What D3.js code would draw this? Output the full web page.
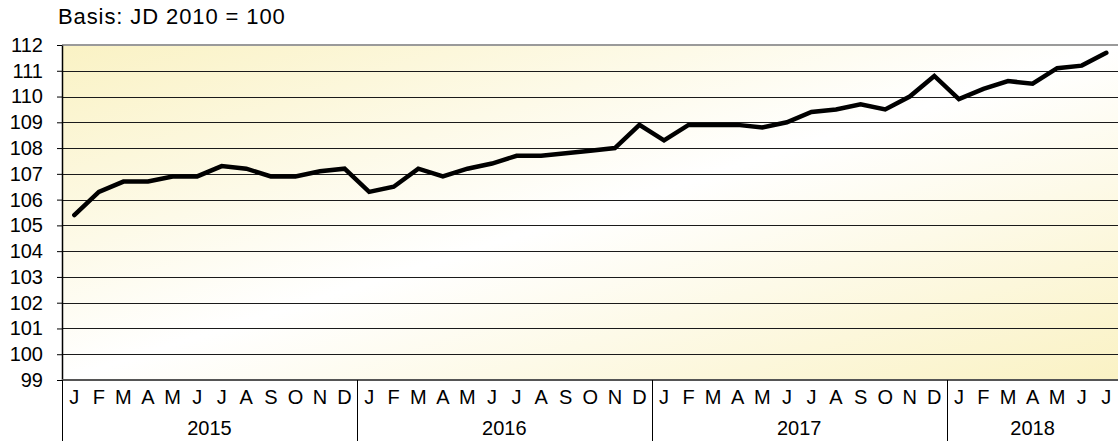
<!DOCTYPE html>
<html>
<head>
<meta charset="utf-8">
<script src="https://cdn.jsdelivr.net/npm/d3@7"></script>
<style>
  body { margin: 0; background: #fff; }
  svg { display: block; font-family: "Liberation Sans", Arial, sans-serif; }
</style>
</head>
<body>
<div id="chart"></div>
<script>
// data (index, basis JD 2010 = 100)
const years = ["2015", "2016", "2017", "2018"];
const monthLetters = ["J", "F", "M", "A", "M", "J", "J", "A", "S", "O", "N", "D"];
const values2015 = [105.4, 106.3, 106.7, 106.7, 106.9, 106.9, 107.3, 107.2, 106.9, 106.9, 107.1, 107.2];
const values2016 = [106.3, 106.5, 107.2, 106.9, 107.2, 107.4, 107.7, 107.7, 107.8, 107.9, 108.0, 108.9];
const values2017 = [108.3, 108.9, 108.9, 108.9, 108.8, 109.0, 109.4, 109.5, 109.7, 109.5, 110.0, 110.8];
const values2018 = [109.9, 110.3, 110.6, 110.5, 111.1, 111.2, 111.7];
const yTicks = [99, 100, 101, 102, 103, 104, 105, 106, 107, 108, 109, 110, 111, 112];
const subtitle = "Basis: JD 2010 = 100";

// set sizes
const W = 1118, H = 441;
const margin = { top: 45, left: 62, right: -0.6, bottom: 61 };
const plotBottom = H - margin.bottom;

// flatten series into month points
const series = [values2015, values2016, values2017, values2018];
let points = [];
series.forEach((vals, yi) => {
  vals.forEach((v, mi) => {
    points.push({ key: years[yi] + "-" + mi, year: years[yi], month: mi, value: v });
  });
});

const svg = d3.select("#chart")
  .append("svg")
  .attr("width", W)
  .attr("height", H);

const x = d3.scaleBand()
  .domain(points.map(d => d.key))
  .range([margin.left, W - margin.right])
  .padding(0);

const y = d3.scaleLinear()
  .domain([99, 112])
  .range([plotBottom, margin.top]);

// background gradient
const defs = svg.append("defs");
const grad = defs.append("linearGradient")
  .attr("id", "bg")
  .attr("x1", 0).attr("y1", 0).attr("x2", 1).attr("y2", 1);
grad.append("stop").attr("offset", "0%").attr("stop-color", "#faf2c4");
grad.append("stop").attr("offset", "50%").attr("stop-color", "#ffffff");
grad.append("stop").attr("offset", "100%").attr("stop-color", "#faf2c4");

svg.append("rect")
  .attr("x", margin.left)
  .attr("y", margin.top)
  .attr("width", W - margin.right - margin.left)
  .attr("height", plotBottom - margin.top)
  .attr("fill", "url(#bg)");

// horizontal gridlines
svg.append("g")
  .selectAll("line")
  .data(yTicks.slice(1, -1))
  .join("line")
  .attr("x1", margin.left)
  .attr("x2", W)
  .attr("y1", d => Math.round(y(d)) + 0.5)
  .attr("y2", d => Math.round(y(d)) + 0.5)
  .attr("stroke", "#1a1a1a")
  .attr("stroke-width", 1);

// top border
svg.append("line")
  .attr("x1", margin.left).attr("x2", W)
  .attr("y1", y(112)).attr("y2", y(112))
  .attr("stroke", "#9a9a9a")
  .attr("stroke-width", 2);

// y axis
const yAxis = svg.append("g")
  .attr("transform", `translate(${margin.left},0)`)
  .call(d3.axisLeft(y).tickValues(yTicks).tickSize(5).tickSizeOuter(0).tickPadding(14).tickFormat(d3.format("d")));
yAxis.select(".domain").attr("stroke", "#000").attr("stroke-width", 1.5);
yAxis.selectAll(".tick line").attr("stroke", "#000");
yAxis.selectAll("text")
  .attr("font-size", 20)
  .attr("font-family", "Liberation Sans, Arial, sans-serif")
  .attr("fill", "#000");

// bottom axis line
svg.append("line")
  .attr("x1", margin.left).attr("x2", W)
  .attr("y1", plotBottom).attr("y2", plotBottom)
  .attr("stroke", "#555")
  .attr("stroke-width", 2);

// year separators below the axis
const sepX = years.map(yr => x(yr + "-0"));
svg.append("g")
  .selectAll("line")
  .data(sepX)
  .join("line")
  .attr("x1", d => Math.round(d) + 0.5)
  .attr("x2", d => Math.round(d) + 0.5)
  .attr("y1", plotBottom)
  .attr("y2", H)
  .attr("stroke", "#000")
  .attr("stroke-width", 1);

// month letters
svg.append("g")
  .selectAll("text")
  .data(points)
  .join("text")
  .attr("x", d => x(d.key) + x.bandwidth() / 2)
  .attr("y", 397)
  .attr("dy", "0.35em")
  .attr("text-anchor", "middle")
  .attr("font-size", 20)
  .text(d => monthLetters[d.month]);

// year labels
svg.append("g")
  .selectAll("text")
  .data(years)
  .join("text")
  .attr("x", (yr, i) => {
    const n = series[i].length;
    return x(yr + "-0") + n * x.bandwidth() / 2;
  })
  .attr("y", 428)
  .attr("dy", "0.35em")
  .attr("text-anchor", "middle")
  .attr("font-size", 20)
  .text(d => d);

// the index line
const line = d3.line()
  .x(d => x(d.key) + x.bandwidth() / 2)
  .y(d => y(d.value));

svg.append("path")
  .datum(points)
  .attr("d", line)
  .attr("fill", "none")
  .attr("stroke", "#000")
  .attr("stroke-width", 4.5)
  .attr("stroke-linejoin", "miter")
  .attr("stroke-linecap", "round");

// subtitle
svg.append("text")
  .attr("x", 58)
  .attr("y", 24)
  .attr("font-size", 22)
  .attr("letter-spacing", "0.9px")
  .text(subtitle);
</script>
</body>
</html>
